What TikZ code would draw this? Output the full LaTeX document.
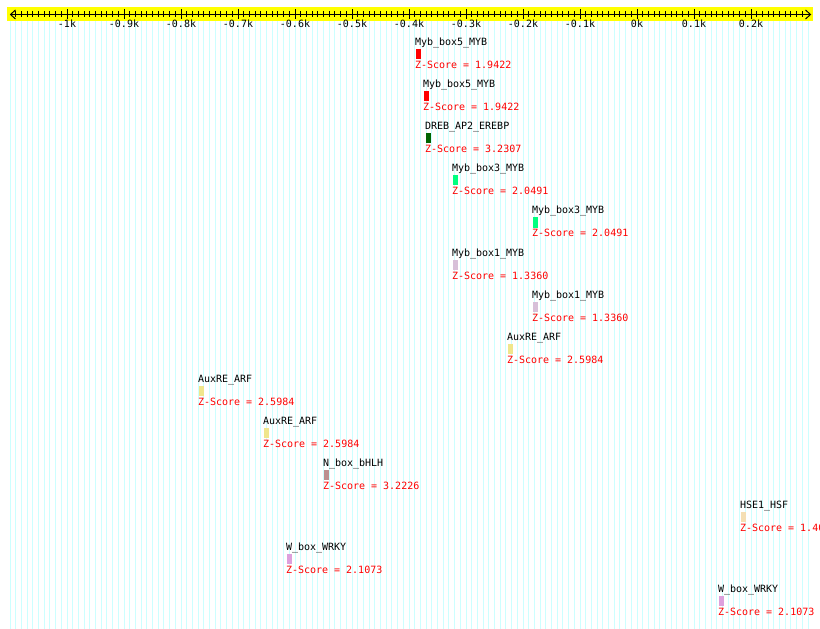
\documentclass[tikz,border=0pt]{standalone}
\usepackage{fontspec}
\setmonofont{DejaVu Sans Mono}
\definecolor{gridc}{RGB}{204,255,255}
\definecolor{axisbg}{RGB}{255,255,0}
\definecolor{zred}{RGB}{255,0,0}
\definecolor{cmybfive}{RGB}{255,0,0}
\definecolor{cdreb}{RGB}{0,100,0}
\definecolor{cmybthree}{RGB}{0,255,127}
\definecolor{cmybone}{RGB}{216,191,216}
\definecolor{cauxre}{RGB}{240,230,140}
\definecolor{cnbox}{RGB}{188,143,143}
\definecolor{chse}{RGB}{245,222,179}
\definecolor{cwbox}{RGB}{221,160,221}
\begin{document}
\begin{tikzpicture}[x=1bp,y=-1bp,
  txt/.style={font=\ttfamily\fontsize{10bp}{12bp}\selectfont, inner sep=0pt, outer sep=0pt},
  namelbl/.style={txt, anchor=base west, text=black},
  zlbl/.style={txt, anchor=base west, text=zred},
  ticklbl/.style={txt, anchor=base, text=black},
  motifbar/.style={draw=none, inner sep=0pt, outer sep=0pt, minimum width=5bp, minimum height=10bp, anchor=north west},
  gridline/.style={draw=gridc, line width=1bp},
  axisline/.style={draw=black, line width=1bp}]
\useasboundingbox (0,0) rectangle (820,629);
\begin{scope}
\clip (0,0) rectangle (820,629);
\fill[white] (0,0) rectangle (820,629);
% background grid
\foreach \k in {-110,...,30}
  \draw[gridline] ({637+5.7*\k},21) -- ({637+5.7*\k},629);
% axis band
\fill[axisbg] (7,7) rectangle (813,21);
\draw[axisline] (10.5,14.5) -- (810.5,14.5);
\draw[axisline] (15.5,10) -- (10.5,14.5) -- (15.5,19);
\draw[axisline] (805.5,10) -- (810.5,14.5) -- (805.5,19);
\foreach \k in {-109,...,29}
  \draw[draw=black, line width=1bp] ({637+5.7*\k},11.5) -- ({637+5.7*\k},17.5);
\foreach \k in {-100,-90,...,20}
  \draw[draw=black, line width=1bp] ({637+5.7*\k},9.5) -- ({637+5.7*\k},19.5);
\foreach \k/\t [count=\j] in {-100/-1k,-90/-0.9k,-80/-0.8k,-70/-0.7k,-60/-0.6k,-50/-0.5k,-40/-0.4k,-30/-0.3k,-20/-0.2k,-10/-0.1k,0/0k,10/0.1k,20/0.2k}
  \node[ticklbl] (t\j) at ({637+5.7*\k},28) {\t};
% motifs
\foreach \i/\nm/\xx/\cc/\zz in {
  0/Myb\_box5\_MYB/415/cmybfive/1.9422,
  1/Myb\_box5\_MYB/423/cmybfive/1.9422,
  2/DREB\_AP2\_EREBP/425/cdreb/3.2307,
  3/Myb\_box3\_MYB/452/cmybthree/2.0491,
  4/Myb\_box3\_MYB/532/cmybthree/2.0491,
  5/Myb\_box1\_MYB/452/cmybone/1.3360,
  6/Myb\_box1\_MYB/532/cmybone/1.3360,
  7/AuxRE\_ARF/507/cauxre/2.5984,
  8/AuxRE\_ARF/198/cauxre/2.5984,
  9/AuxRE\_ARF/263/cauxre/2.5984,
  10/N\_box\_bHLH/323/cnbox/3.2226,
  11/HSE1\_HSF/740/chse/1.40,
  12/W\_box\_WRKY/286/cwbox/2.1073,
  13/W\_box\_WRKY/718/cwbox/2.1073}
{
  \node[namelbl] (n\i) at (\xx,{46+42*\i}) {\nm};
  \node[motifbar, fill=\cc] (b\i) at ({\xx+0.5},{49.5+42*\i}) {};
  \node[zlbl] (z\i) at (\xx,{69+42*\i}) {Z-Score = \zz};
}
\end{scope}
\end{tikzpicture}
\end{document}
